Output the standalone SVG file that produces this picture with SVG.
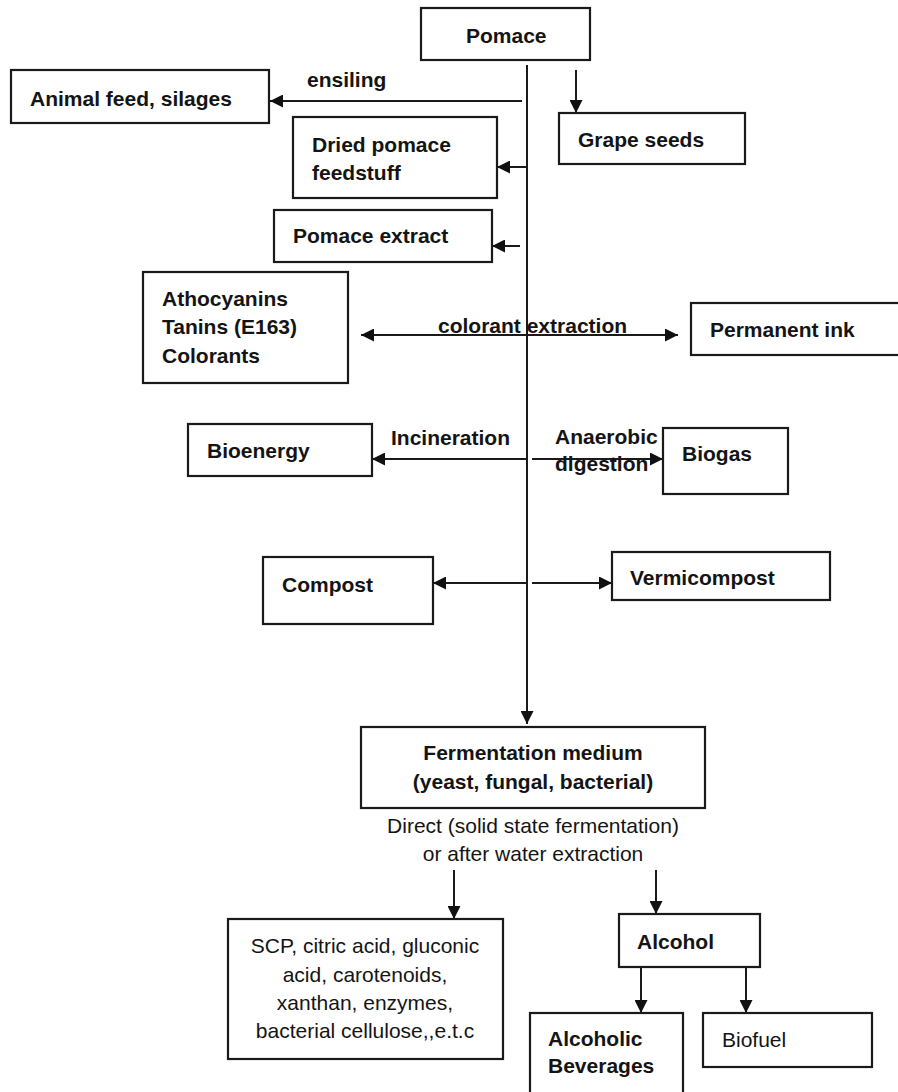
<svg xmlns="http://www.w3.org/2000/svg" width="898" height="1092" viewBox="0 0 898 1092">
<style>
.box{fill:#fff;stroke:#1a1a1a;stroke-width:2.2}
.t{font-family:"Liberation Sans",Arial,sans-serif;font-size:21px;fill:#141414}
.b{font-weight:bold}
.c{text-anchor:middle}
.ln{fill:none;stroke:#1a1a1a;stroke-width:2}
.a{marker-end:url(#ah)}
.d{marker-start:url(#ah);marker-end:url(#ah)}
</style>
<defs>
<marker id="ah" viewBox="0 0 14 14" refX="14" refY="7" markerWidth="14" markerHeight="13" markerUnits="userSpaceOnUse" orient="auto-start-reverse">
<path d="M0,0 L14,7 L0,14 z" fill="#111"/>
</marker>
</defs>
<rect width="898" height="1092" fill="#fff"/>

<g id="connectors">
<line class="ln a" x1="527" y1="65" x2="527" y2="724"/>
<line class="ln a" x1="576" y1="70" x2="576" y2="113"/>
<line class="ln a" x1="522" y1="101" x2="270" y2="101"/>
<line class="ln a" x1="527" y1="167" x2="497" y2="167"/>
<line class="ln a" x1="520" y1="246" x2="492" y2="246"/>
<line class="ln d" x1="361" y1="335" x2="678" y2="335"/>
<line class="ln a" x1="527" y1="459" x2="372" y2="459"/>
<line class="ln a" x1="532" y1="459" x2="663" y2="459"/>
<line class="ln a" x1="527" y1="583" x2="433" y2="583"/>
<line class="ln a" x1="532" y1="583" x2="612" y2="583"/>
<line class="ln a" x1="454" y1="870" x2="454" y2="919"/>
<line class="ln a" x1="656" y1="870" x2="656" y2="914"/>
<line class="ln a" x1="641" y1="967" x2="641" y2="1013"/>
<line class="ln a" x1="746" y1="967" x2="746" y2="1013"/>
<text class="t b" x="307" y="87">ensiling</text>
<text class="t b" x="438" y="333">colorant extraction</text>
<text class="t b" x="391" y="445">Incineration</text>
<text class="t b" x="555" y="444">Anaerobic</text>
<text class="t b" x="555" y="471">digestion</text>
<text class="t c" x="533" y="833">Direct (solid state fermentation)</text>
<text class="t c" x="533" y="861">or after water extraction</text>
</g>

<g id="pomace">
<rect class="box" x="421" y="8" width="169" height="52"/>
<text class="t b" x="466" y="43">Pomace</text>
</g>
<g id="animal-feed">
<rect class="box" x="11" y="70" width="258" height="53"/>
<text class="t b" x="30" y="106">Animal feed, silages</text>
</g>
<g id="grape-seeds">
<rect class="box" x="559" y="113" width="186" height="51"/>
<text class="t b" x="578" y="147">Grape seeds</text>
</g>
<g id="dried-pomace">
<rect class="box" x="293" y="117" width="204" height="81"/>
<text class="t b" x="312" y="152">Dried pomace</text>
<text class="t b" x="312" y="180">feedstuff</text>
</g>
<g id="pomace-extract">
<rect class="box" x="274" y="210" width="218" height="52"/>
<text class="t b" x="293" y="243">Pomace extract</text>
</g>
<g id="athocyanins">
<rect class="box" x="143" y="272" width="205" height="111"/>
<text class="t b" x="162" y="306">Athocyanins</text>
<text class="t b" x="162" y="334">Tanins (E163)</text>
<text class="t b" x="162" y="363">Colorants</text>
</g>
<g id="permanent-ink">
<rect class="box" x="691" y="303" width="212" height="52"/>
<text class="t b" x="710" y="337">Permanent ink</text>
</g>
<g id="bioenergy">
<rect class="box" x="188" y="424" width="184" height="52"/>
<text class="t b" x="207" y="458">Bioenergy</text>
</g>
<g id="biogas">
<rect class="box" x="663" y="428" width="125" height="66"/>
<text class="t b" x="682" y="461">Biogas</text>
</g>
<g id="compost">
<rect class="box" x="263" y="557" width="170" height="67"/>
<text class="t b" x="282" y="592">Compost</text>
</g>
<g id="vermicompost">
<rect class="box" x="612" y="552" width="218" height="48"/>
<text class="t b" x="630" y="585">Vermicompost</text>
</g>
<g id="fermentation">
<rect class="box" x="361" y="727" width="344" height="81"/>
<text class="t b c" x="533" y="760">Fermentation medium</text>
<text class="t b c" x="533" y="789">(yeast, fungal, bacterial)</text>
</g>
<g id="scp">
<rect class="box" x="228" y="919" width="275" height="140"/>
<text class="t c" x="365" y="953">SCP, citric acid, gluconic</text>
<text class="t c" x="365" y="982">acid, carotenoids,</text>
<text class="t c" x="365" y="1010">xanthan, enzymes,</text>
<text class="t c" x="365" y="1038">bacterial cellulose,,e.t.c</text>
</g>
<g id="alcohol">
<rect class="box" x="619" y="914" width="141" height="53"/>
<text class="t b" x="637" y="949">Alcohol</text>
</g>
<g id="alcoholic-beverages">
<rect class="box" x="530" y="1013" width="153" height="90"/>
<text class="t b" x="548" y="1046">Alcoholic</text>
<text class="t b" x="548" y="1073">Beverages</text>
</g>
<g id="biofuel">
<rect class="box" x="703" y="1013" width="169" height="54"/>
<text class="t" x="722" y="1047">Biofuel</text>
</g>
</svg>
